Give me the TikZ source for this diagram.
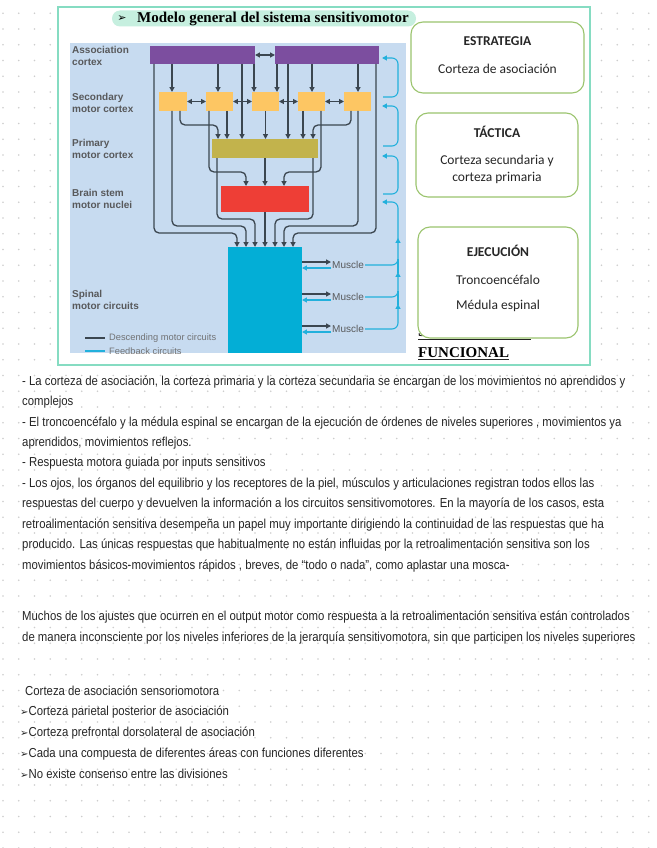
\documentclass[tikz,border=0pt]{standalone}
\usepackage{fontspec}
\usetikzlibrary{arrows.meta,calc}
\setmainfont{Liberation Serif}
\newfontfamily\arialf{Liberation Sans}
\newfontfamily\calif{Carlito}
\newfontfamily\dingf{DejaVu Sans}
\newfontfamily\handf[FakeStretch=0.875]{Liberation Sans}
\definecolor{frameC}{HTML}{86DCC2}
\definecolor{pillC}{HTML}{C6EFDF}
\definecolor{panelC}{HTML}{C7DBF0}
\definecolor{purpC}{HTML}{7C4E9F}
\definecolor{orC}{HTML}{FDC663}
\definecolor{olC}{HTML}{C2B34C}
\definecolor{redC}{HTML}{EE3E36}
\definecolor{cyC}{HTML}{03AED6}
\definecolor{lineC}{HTML}{3B4650}
\definecolor{fbC}{HTML}{22B0DC}
\definecolor{boxC}{HTML}{9BC46E}
\definecolor{lblC}{HTML}{58595B}
\definecolor{dotC}{HTML}{CDCDCD}
\definecolor{txtC}{HTML}{262626}
\begin{document}
\begin{tikzpicture}[x=1pt,y=-1pt,
  blk/.style={draw=none, inner sep=0pt, outer sep=0pt},
  tip/.style={-{Triangle[length=4.8pt,width=4.8pt]}},
  desc/.style={draw=lineC, line width=1.3pt, rounded corners=5pt, tip},
  dbl/.style={draw=lineC, line width=1.3pt, {Triangle[length=4.8pt,width=4.8pt]}-{Triangle[length=4.8pt,width=4.8pt]}},
  fb/.style={draw=fbC, line width=1.1pt, rounded corners=6pt},
  fba/.style={fb, tip},
  lvl/.style={font=\arialf\bfseries\fontsize{10}{12}\selectfont, text=lblC, align=left, anchor=west, inner sep=0pt},
  msc/.style={font=\arialf\fontsize{10}{12}\selectfont, text=lblC, anchor=west, inner sep=1pt},
  leg/.style={font=\arialf\fontsize{9.3}{11}\selectfont, text=lblC!85, anchor=west, inner sep=0pt},
  rbox/.style={draw=boxC, line width=1.1pt, rounded corners=12pt, fill=white},
  rtxt/.style={font=\calif\fontsize{13.5}{16}\selectfont, text=txtC, inner sep=0pt},
  rhead/.style={font=\calif\bfseries\fontsize{13.5}{16}\selectfont, text=txtC, inner sep=0pt},
  body/.style={font=\handf\fontsize{13}{15}\selectfont, text=txtC, anchor=base west, inner sep=0pt},
  bul/.style={font=\dingf\fontsize{10}{12}\selectfont}
]
\useasboundingbox (0,0) rectangle (656,848);
\fill[white] (0,0) rectangle (656,848);
\foreach \i in {0,...,41} {
  \foreach \j in {0,...,53} {
    \fill[dotC] (3+15.75*\i, 13.3+15.75*\j) circle (0.85);
  }
}
% outer frame
\draw[frameC, line width=2.5pt, fill=white] (58,7) rectangle (590,365);
% title
\node[blk, fill=pillC, rounded corners=8pt, minimum width=304pt, minimum height=16pt] (pill) at (264,18.5) {};
\node[inner sep=0pt, font=\dingf\fontsize{11}{12}\selectfont] (tarr) at (122,18.5) {➢};
\node[inner sep=0pt, anchor=west, font=\bfseries\fontsize{15}{17}\selectfont] (title) at (137,18.5) {Modelo general del sistema sensitivomotor};
% panel
\fill[panelC] (70,43) rectangle (406,353);
% level labels
\node[lvl] (lA) at (72,56) {Association\\cortex};
\node[lvl] (lS) at (72,103) {Secondary\\motor cortex};
\node[lvl] (lP) at (72,149) {Primary\\motor cortex};
\node[lvl] (lB) at (72,199) {Brain stem\\motor nuclei};
\node[lvl] (lM) at (72,300) {Spinal\\motor circuits};
% boxes
\node[blk, fill=purpC, minimum width=105pt, minimum height=18pt] (pA) at (202.5,55) {};
\node[blk, fill=purpC, minimum width=104pt, minimum height=18pt] (pB) at (327,55) {};
\node[blk, fill=orC, minimum width=28pt, minimum height=19pt] (o1) at (173,101.5) {};
\node[blk, fill=orC, minimum width=27pt, minimum height=19pt] (o2) at (219.5,101.5) {};
\node[blk, fill=orC, minimum width=27pt, minimum height=19pt] (o3) at (265.5,101.5) {};
\node[blk, fill=orC, minimum width=27pt, minimum height=19pt] (o4) at (311.5,101.5) {};
\node[blk, fill=orC, minimum width=27pt, minimum height=19pt] (o5) at (357.5,101.5) {};
\node[blk, fill=olC, minimum width=106pt, minimum height=19pt] (ol) at (265,148.5) {};
\node[blk, fill=redC, minimum width=88pt, minimum height=26pt] (rd) at (265,199) {};
\node[blk, fill=cyC, minimum width=74pt, minimum height=106pt] (sp) at (265,300) {};
% lateral double arrows
\draw[dbl] (pA.east) -- (pB.west);
\draw[dbl] (o1.east) -- (o2.west);
\draw[dbl] (o2.east) -- (o3.west);
\draw[dbl] (o3.east) -- (o4.west);
\draw[dbl] (o4.east) -- (o5.west);
% descending from association cortex
\draw[desc] (pA.south -| 154,0) |- (237,233) -- (sp.north -| 237,0);
\draw[desc] (pA.south -| 172,0) -- (o1.north -| 172,0);
\draw[desc] (pA.south -| 218,0) -- (o2.north -| 218,0);
\draw[desc] (pA.south -| 242,0) -- (ol.north -| 242,0);
\draw[desc] (pA.south -| 254,0) -- (o3.north -| 254,0);
\draw[desc] (pB.south -| 277,0) -- (o3.north -| 277,0);
\draw[desc] (pB.south -| 288,0) -- (ol.north -| 288,0);
\draw[desc] (pB.south -| 312,0) -- (o4.north -| 312,0);
\draw[desc] (pB.south -| 358,0) -- (o5.north -| 358,0);
\draw[desc] (pB.south -| 376,0) |- (293,233) -- (sp.north -| 293,0);
% descending from secondary motor cortex
\draw[desc] (o1.south -| 172,0) |- (246,226) -- (sp.north -| 246,0);
\draw[desc] (o1.south -| 180,0) |- (218,125) -- (ol.north -| 218,0);
\draw[desc] (o2.south -| 209,0) |- (246,172) -- (rd.north -| 246,0);
\draw[desc] (o2.south -| 227,0) -- (ol.north -| 227,0);
\draw[desc] (o3.south) -- (o3.south |- ol.north);
\draw[desc] (o4.south -| 303,0) -- (ol.north -| 303,0);
\draw[desc] (o4.south -| 321,0) |- (284,172) -- (rd.north -| 284,0);
\draw[desc] (o5.south -| 351,0) |- (313,125) -- (ol.north -| 313,0);
\draw[desc] (o5.south -| 358,0) |- (284,226) -- (sp.north -| 284,0);
% from primary motor cortex
\draw[desc] (ol.south -| 217,0) |- (255,219) -- (sp.north -| 255,0);
\draw[desc] (ol.south) -- (rd.north);
\draw[desc] (ol.south -| 313,0) |- (275,219) -- (sp.north -| 275,0);
% from brain stem
\draw[desc] (rd.south) -- (sp.north);
% muscles
\node[msc] (m1) at (331,265) {Muscle};
\node[msc] (m2) at (331,297) {Muscle};
\node[msc] (m3) at (331,329) {Muscle};
\draw[desc] (sp.east |- 0,262) -- (m1.west |- 0,262);
\draw[desc] (sp.east |- 0,294) -- (m2.west |- 0,294);
\draw[desc] (sp.east |- 0,326) -- (m3.west |- 0,326);
\draw[fba] (m1.west |- 0,268) -- (sp.east |- 0,268);
\draw[fba] (m2.west |- 0,300) -- (sp.east |- 0,300);
\draw[fba] (m3.west |- 0,332) -- (sp.east |- 0,332);
% feedback circuits
\coordinate (fbM) at (382,202);
\coordinate (fbA1) at (383,97);  \coordinate (fbA2) at (382,58);
\coordinate (fbB1) at (383,146); \coordinate (fbB2) at (382,106);
\coordinate (fbC1) at (383,194); \coordinate (fbC2) at (382,156);
\draw[fba] (m3.east) -| (398,304);
\draw[fb] (398,305) -- (398,291);
\draw[fba] (m2.east) -| (398,272);
\draw[fb] (398,273) -- (398,259);
\draw[fba] (m1.east) -| (398,238);
\draw[fba] (398,239) -- (398,202) -- (fbM);
\draw[fba] (fbC1) -- (398,194) -- (398,156) -- (fbC2);
\draw[fba] (fbB1) -- (398,146) -- (398,106) -- (fbB2);
\draw[fba] (fbA1) -- (398,97) -- (398,58) -- (fbA2);
% legend
\node[leg] (legD) at (109,338) {Descending motor circuits};
\draw[lineC, line width=1.2pt] ([xshift=-24pt]legD.west) -- ([xshift=-4pt]legD.west);
\begin{scope}
\clip (70,43) rectangle (406,353);
\node[leg] (legF) at (109,351) {Feedback circuits};
\draw[fbC, line width=1.1pt] ([xshift=-24pt]legF.west) -- ([xshift=-4pt]legF.west);
\end{scope}
% right side boxes
\node[rbox, minimum width=173pt, minimum height=71pt] (bS) at (497.5,57.5) {};
\node[rhead] (bS1) at (497.5,41) {ESTRATEGIA};
\node[rtxt] (bS2) at (497.5,69) {Corteza de asociación};
\node[rbox, minimum width=162pt, minimum height=84pt] (bT) at (497,155) {};
\node[rhead] (bT1) at (497,132) {TÁCTICA};
\node[rtxt] (bT2) at (497,161) {Corteza secundaria y};
\node[rtxt] (bT3) at (497,178) {corteza primaria};
\node[anchor=base west, inner sep=0pt, font=\bfseries\fontsize{15}{17}\selectfont] (hid) at (418,336.5) {SEGREGACIÓN};
\draw[txtC, line width=1.2pt] ([yshift=-2.6pt]hid.base west) -- ([yshift=-2.6pt]hid.base east);
\node[rbox, minimum width=160pt, minimum height=111pt] (bE) at (498,282.5) {};
\node[rhead] (bE1) at (498,251) {EJECUCIÓN};
\node[rtxt] (bE2) at (498,280) {Troncoencéfalo};
\node[rtxt] (bE3) at (498,306) {Médula espinal};
\node[anchor=base west, inner sep=0pt, font=\bfseries\fontsize{15}{17}\selectfont] (fun) at (418,357) {FUNCIONAL};
\draw[txtC, line width=1.2pt] ([yshift=-2.6pt]fun.base west) -- ([yshift=-2.6pt]fun.base east);
% body text
\node[body] (t1) at (22,385) {- La corteza de asociación, la corteza primaria y la corteza secundaria se encargan de los movimientos no aprendidos y};
\node[body] (t2) at (22,405.4) {complejos};
\node[body] (t3) at (22,426) {- El troncoencéfalo y la médula espinal se encargan de la ejecución de órdenes de niveles superiores , movimientos ya};
\node[body] (t4) at (22,446.3) {aprendidos, movimientos reflejos.};
\node[body] (t5) at (22,466.8) {- Respuesta motora guiada por inputs sensitivos};
\node[body] (t6) at (22,487.2) {- Los ojos, los órganos del equilibrio y los receptores de la piel, músculos y articulaciones registran todos ellos las};
\node[body] (t7) at (22,507.7) {respuestas del cuerpo y devuelven la información a los circuitos sensitivomotores. En la mayoría de los casos, esta};
\node[body] (t8) at (22,528) {retroalimentación sensitiva desempeña un papel muy importante dirigiendo la continuidad de las respuestas que ha};
\node[body] (t9) at (22,548.6) {producido. Las únicas respuestas que habitualmente no están influidas por la retroalimentación sensitiva son los};
\node[body] (t10) at (22,569) {movimientos básicos-movimientos rápidos , breves, de “todo o nada”, como aplastar una mosca-};
\node[body] (t11) at (22,620) {Muchos de los ajustes que ocurren en el output motor como respuesta a la retroalimentación sensitiva están controlados};
\node[body] (t12) at (22,641) {de manera inconsciente por los niveles inferiores de la jerarquía sensitivomotora, sin que participen los niveles superiores};
\node[body] (t13) at (25,695) {Corteza de asociación sensoriomotora};
\node[body] (t14) at (20,715.5) {{\dingf\fontsize{10}{12}\selectfont ➢}Corteza parietal posterior de asociación};
\node[body] (t15) at (20,736) {{\dingf\fontsize{10}{12}\selectfont ➢}Corteza prefrontal dorsolateral de asociación};
\node[body] (t16) at (20,757) {{\dingf\fontsize{10}{12}\selectfont ➢}Cada una compuesta de diferentes áreas con funciones diferentes};
\node[body] (t17) at (20,778) {{\dingf\fontsize{10}{12}\selectfont ➢}No existe consenso entre las divisiones};
\end{tikzpicture}
\end{document}
